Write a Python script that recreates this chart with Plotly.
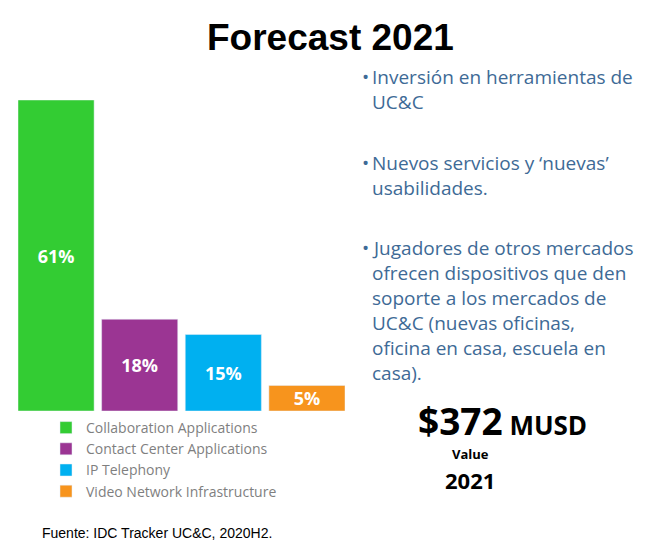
import plotly.graph_objects as go

categories = ["Collaboration Applications", "Contact Center Applications", "IP Telephony", "Video Network Infrastructure"]
values = [61, 18, 15, 5]
labels = ["61%", "18%", "15%", "5%"]
colors = ["#33cc33", "#9b3593", "#00b0f0", "#f7941d"]

bullets = [
    ["Inversión en herramientas de", "UC&C"],
    ["Nuevos servicios y ‘nuevas’", "usabilidades."],
    ["Jugadores de otros mercados", "ofrecen dispositivos que den", "soporte a los mercados de",
     "UC&C (nuevas oficinas,", "oficina en casa, escuela en", "casa)."],
]

W, H = 663, 557
OFF = 8  # page body margin

def px(p):
    return (p - OFF) / W

def py(p):
    return 1 - (p - OFF) / H

fig = go.Figure()
for c, v, l, col in zip(categories, values, labels, colors):
    fig.add_trace(go.Bar(x=[c], y=[v], name=c, text=[l], marker_color=col,
                         textposition="inside", insidetextanchor="middle", constraintext="none",
                         textfont=dict(family="Open Sans", size=18, color="white", weight="bold"),
                         textangle=0, width=0.91))

fig.update_layout(
    width=W, height=H, margin=dict(l=0, r=0, t=0, b=0),
    plot_bgcolor="white", paper_bgcolor="white", barmode="overlay",
    xaxis=dict(domain=[px(18), px(345)], visible=False, range=[-0.455, 3.455]),
    yaxis=dict(domain=[py(411), py(100)], visible=False, range=[0, 61]),
    showlegend=True,
    legend=dict(x=px(46), y=py(412), xanchor="left", yanchor="top",
                font=dict(family="Open Sans", size=14, color="#7f7f7f"),
                tracegroupgap=0, itemwidth=30, bgcolor="rgba(0,0,0,0)"),
)

def A(text, x, y, size, color="black", family="Open Sans", xanchor="center"):
    return dict(text=text, x=px(x), y=py(y), xref="paper", yref="paper", xanchor=xanchor,
                yanchor="middle", showarrow=False, font=dict(family=family, size=size, color=color))

ann = [A("<b>Forecast 2021</b>", 330, 38, 37, family="Liberation Sans")]
starts = [77, 163, 248]
txtcol = "#3e6a96"
for s, lines in zip(starts, bullets):
    ann.append(A("•", 360, s, 19, txtcol, xanchor="left"))
    for i, line in enumerate(lines):
        ann.append(A(line, 370, s + i * 25, 19, txtcol, xanchor="left"))
ann.append(A("<b><span style='font-size:37px'>$372</span> MUSD</b>", 502, 420, 26))
ann.append(A("<b>Value</b>", 470, 454, 13))
ann.append(A("<b>2021</b>", 470, 480, 22))
ann.append(A("Fuente: IDC Tracker UC&C, 2020H2.", 40, 533, 14, family="Liberation Sans", xanchor="left"))
fig.update_layout(annotations=ann)
fig.write_html("out.html")
